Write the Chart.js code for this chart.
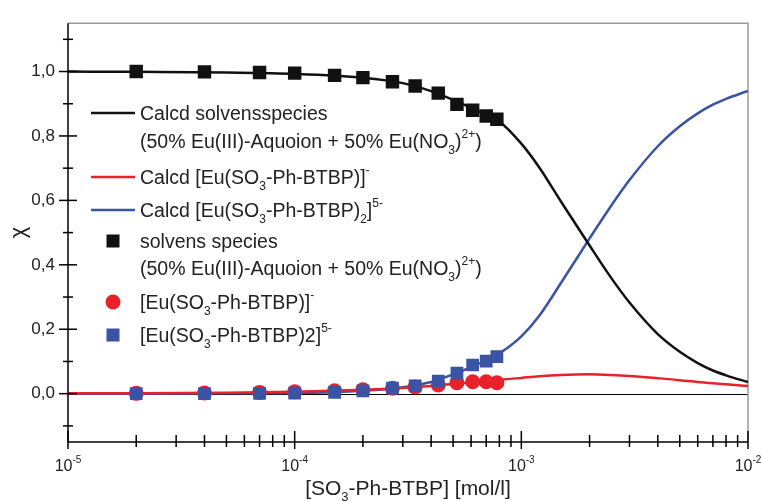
<!DOCTYPE html>
<html>
<head>
<meta charset="utf-8">
<script src="https://cdn.jsdelivr.net/npm/chart.js@4.4.1/dist/chart.umd.min.js"></script>
<style>
  body { margin: 0; background: #fff; }
  #wrap { width: 761px; height: 501px; }
</style>
</head>
<body>
<div id="wrap"><canvas id="speciation"></canvas></div>
<script>
// x axis decades (10^n), y tick positions and labelled y values
const decades = [-5, -4, -3, -2];
const yTicks = [-0.1, 0, 0.1, 0.2, 0.3, 0.4, 0.5, 0.6, 0.7, 0.8, 0.9, 1.0, 1.1];
const yLabelTicks = [0, 0.2, 0.4, 0.6, 0.8, 1.0];

// measured points
const measX = [2e-5, 4e-5, 7e-5, 1e-4, 1.5e-4, 2e-4, 2.7e-4, 3.4e-4, 4.3e-4, 5.2e-4, 6.1e-4, 7e-4, 7.8e-4];
const measSolv = [1.0, 0.999, 0.997, 0.995, 0.988, 0.981, 0.968, 0.955, 0.933, 0.898, 0.880, 0.862, 0.852];
const measL1 = [0.001, 0.002, 0.004, 0.006, 0.009, 0.012, 0.017, 0.021, 0.027, 0.034, 0.037, 0.037, 0.034];
const measL2 = [0, 0, 0.001, 0.002, 0.004, 0.009, 0.017, 0.024, 0.039, 0.064, 0.089, 0.101, 0.115];

// calculated curves
const calcX = [1e-5, 2e-5, 5e-5, 1e-4, 2e-4, 3e-4, 4e-4, 5e-4, 6e-4, 7e-4, 8e-4, 1e-3, 1.2e-3, 1.5e-3, 2e-3, 2.5e-3, 3e-3, 4e-3, 5e-3, 6e-3, 7e-3, 8e-3, 1e-2];
const calcSolv = [1.0, 0.999, 0.997, 0.993, 0.981, 0.964, 0.939, 0.912, 0.887, 0.865, 0.845, 0.776, 0.702, 0.595, 0.460, 0.358, 0.283, 0.185, 0.130, 0.095, 0.072, 0.057, 0.036];
const calcL1 = [0.001, 0.001, 0.003, 0.006, 0.012, 0.018, 0.024, 0.030, 0.035, 0.039, 0.043, 0.049, 0.054, 0.058, 0.060, 0.058, 0.055, 0.048, 0.042, 0.036, 0.032, 0.029, 0.024];
const calcL2 = [0, 0, 0.001, 0.002, 0.009, 0.020, 0.036, 0.060, 0.082, 0.103, 0.125, 0.178, 0.242, 0.345, 0.482, 0.585, 0.663, 0.768, 0.830, 0.870, 0.897, 0.915, 0.940];

const BLACK = '#111111';
const RED = '#e8212b';
const BLUE = '#3a53a4';
const FONT = '"Liberation Sans", Arial, sans-serif';

// legend rows: [text, 'n' | 'sub' | 'sup']
const legendRows = [
  { mark: 'line', color: BLACK, base: 120, parts: [['Calcd solvensspecies', 'n']] },
  { base: 148, parts: [['(50% Eu(III)-Aquoion + 50% Eu(NO', 'n'], ['3', 'sub'], [')', 'n'], ['2+', 'sup'], [')', 'n']] },
  { mark: 'line', color: RED, base: 184, parts: [['Calcd [Eu(SO', 'n'], ['3', 'sub'], ['-Ph-BTBP)]', 'n'], ['-', 'sup']] },
  { mark: 'line', color: BLUE, base: 217, parts: [['Calcd [Eu(SO', 'n'], ['3', 'sub'], ['-Ph-BTBP)', 'n'], ['2', 'sub'], [']', 'n'], ['5-', 'sup']] },
  { mark: 'rect', color: BLACK, base: 248, parts: [['solvens species', 'n']] },
  { base: 275, parts: [['(50% Eu(III)-Aquoion + 50% Eu(NO', 'n'], ['3', 'sub'], [')', 'n'], ['2+', 'sup'], [')', 'n']] },
  { mark: 'circle', color: RED, base: 309, parts: [['[Eu(SO', 'n'], ['3', 'sub'], ['-Ph-BTBP)]', 'n'], ['-', 'sup']] },
  { mark: 'rect', color: BLUE, base: 342, parts: [['[Eu(SO', 'n'], ['3', 'sub'], ['-Ph-BTBP)2]', 'n'], ['5-', 'sup']] }
];

function pts(xs, ys) {
  return xs.map((x, i) => ({ x: x, y: ys[i] }));
}

function isLabelled(v) {
  return yLabelTicks.some(t => Math.abs(t - v) < 1e-6);
}

function richText(ctx, parts, x, y, size, align) {
  const small = Math.round(size * 0.62);
  let total = 0;
  const widths = parts.map(p => {
    ctx.font = (p[1] === 'n' ? size : small) + 'px ' + FONT;
    const w = ctx.measureText(p[0]).width;
    total += w;
    return w;
  });
  let cx = align === 'center' ? x - total / 2 : x;
  ctx.textAlign = 'left';
  ctx.textBaseline = 'alphabetic';
  parts.forEach((p, i) => {
    ctx.font = (p[1] === 'n' ? size : small) + 'px ' + FONT;
    let dy = 0;
    if (p[1] === 'sub') dy = size * 0.3;
    if (p[1] === 'sup') dy = -size * 0.52;
    ctx.fillText(p[0], cx, y + dy);
    cx += widths[i];
  });
}

const decor = {
  id: 'decor',
  beforeDatasetsDraw(chart) {
    const { ctx, chartArea: a, scales: { y } } = chart;
    ctx.save();
    ctx.lineWidth = 1;
    ctx.strokeStyle = '#000';
    const y0 = Math.round(y.getPixelForValue(0)) + 0.5;
    ctx.beginPath();
    ctx.moveTo(a.left, y0);
    ctx.lineTo(a.right, y0);
    ctx.stroke();
    // top and right frame
    ctx.strokeStyle = '#9a9a9a';
    ctx.lineWidth = 1.5;
    ctx.beginPath();
    ctx.moveTo(a.left, a.top);
    ctx.lineTo(a.right, a.top);
    ctx.lineTo(a.right, a.bottom);
    ctx.stroke();
    ctx.restore();
  },
  afterDraw(chart) {
    const { ctx, chartArea: a, scales: { x, y } } = chart;
    ctx.save();
    ctx.strokeStyle = '#000';
    ctx.fillStyle = '#222';
    ctx.lineWidth = 1.5;

    // axes
    ctx.beginPath();
    ctx.moveTo(a.left, a.top);
    ctx.lineTo(a.left, a.bottom);
    ctx.lineTo(a.right, a.bottom);
    ctx.stroke();

    // y ticks, crossing the axis
    y.ticks.forEach(t => {
      const py = y.getPixelForValue(t.value);
      const len = isLabelled(t.value) ? 9 : 5;
      ctx.beginPath();
      ctx.moveTo(a.left - len, py);
      ctx.lineTo(a.left + len, py);
      ctx.stroke();
    });

    // x ticks: decades and 2..9 between them
    decades.forEach((e, k) => {
      const steps = k < decades.length - 1 ? 9 : 1;
      for (let m = 1; m <= steps; m++) {
        const px = x.getPixelForValue(m * Math.pow(10, e));
        const major = m === 1;
        ctx.beginPath();
        ctx.moveTo(px, a.bottom - (major ? 11 : 7));
        ctx.lineTo(px, a.bottom + (major ? 7 : 5));
        ctx.stroke();
      }
      richText(ctx, [['10', 'n'], [String(e), 'sup']], x.getPixelForValue(Math.pow(10, e)), 471, 16, 'center');
    });

    // axis titles
    ctx.fillStyle = '#222';
    richText(ctx, [['[SO', 'n'], ['3', 'sub'], ['-Ph-BTBP] [mol/l]', 'n']], (a.left + a.right) / 2, 495, 21, 'center');
    ctx.save();
    ctx.translate(19, (a.top + a.bottom) / 2);
    ctx.rotate(-Math.PI / 2);
    ctx.font = '22px ' + FONT;
    ctx.textAlign = 'center';
    ctx.textBaseline = 'middle';
    ctx.fillText('\u03C7', 0, 0);
    ctx.restore();

    // legend
    legendRows.forEach(r => {
      const cy = r.base - 7;
      if (r.mark === 'line') {
        ctx.strokeStyle = r.color;
        ctx.lineWidth = 2.5;
        ctx.beginPath();
        ctx.moveTo(91, cy);
        ctx.lineTo(135, cy);
        ctx.stroke();
      } else if (r.mark === 'rect') {
        ctx.fillStyle = r.color;
        ctx.fillRect(113 - 6.5, cy - 6.5, 13, 13);
      } else if (r.mark === 'circle') {
        ctx.fillStyle = r.color;
        ctx.beginPath();
        ctx.arc(113, cy, 7.5, 0, Math.PI * 2);
        ctx.fill();
      }
      ctx.fillStyle = '#222';
      richText(ctx, r.parts, 140, r.base, 19.5, 'left');
    });
    ctx.restore();
  }
};

new Chart(document.getElementById('speciation'), {
  type: 'scatter',
  data: {
    datasets: [
      { label: 'Calcd solvensspecies', data: pts(calcX, calcSolv), showLine: true, borderColor: BLACK, borderWidth: 2.5, pointRadius: 0, cubicInterpolationMode: 'monotone', order: 3 },
      { label: 'Calcd [Eu(SO3-Ph-BTBP)]-', data: pts(calcX, calcL1), showLine: true, borderColor: RED, borderWidth: 2.5, pointRadius: 0, cubicInterpolationMode: 'monotone', order: 3 },
      { label: 'Calcd [Eu(SO3-Ph-BTBP)2]5-', data: pts(calcX, calcL2), showLine: true, borderColor: BLUE, borderWidth: 2.5, pointRadius: 0, cubicInterpolationMode: 'monotone', order: 3 },
      { label: 'solvens species', data: pts(measX, measSolv), pointStyle: 'rect', pointRadius: 9.5, backgroundColor: BLACK, borderColor: BLACK, borderWidth: 0, order: 1 },
      { label: '[Eu(SO3-Ph-BTBP)]-', data: pts(measX, measL1), pointStyle: 'circle', pointRadius: 7.5, backgroundColor: RED, borderColor: RED, borderWidth: 0, order: 2 },
      { label: '[Eu(SO3-Ph-BTBP)2]5-', data: pts(measX, measL2), pointStyle: 'rect', pointRadius: 9, backgroundColor: BLUE, borderColor: BLUE, borderWidth: 0, order: 1 }
    ]
  },
  options: {
    responsive: true,
    maintainAspectRatio: false,
    animation: false,
    layout: { padding: { left: 0, top: 12, right: 13, bottom: 0 } },
    plugins: { legend: { display: false }, tooltip: { enabled: false } },
    scales: {
      x: {
        type: 'logarithmic', min: 1e-5, max: 1e-2,
        grid: { display: false, drawTicks: false },
        border: { display: false },
        ticks: { display: false },
        afterFit(s) { s.height = 59; }
      },
      y: {
        min: -0.15, max: 1.15,
        grid: { display: false, drawTicks: false },
        border: { display: false },
        afterBuildTicks(s) { s.ticks = yTicks.map(v => ({ value: v })); },
        ticks: {
          autoSkip: false, padding: 13,
          color: '#222', font: { size: 17, family: FONT },
          callback: v => isLabelled(v) ? v.toFixed(1).replace('.', ',') : ''
        },
        afterFit(s) { s.width = 68; }
      }
    }
  },
  plugins: [decor]
});
</script>
</body>
</html>
